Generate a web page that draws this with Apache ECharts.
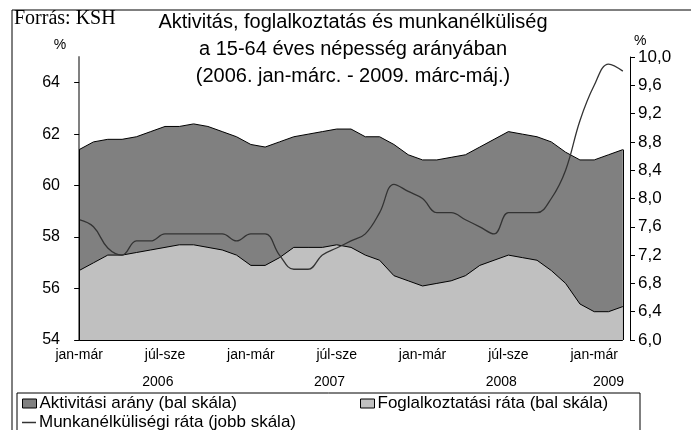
<!DOCTYPE html>
<html>
<head>
<meta charset="utf-8">
<script src="https://cdn.jsdelivr.net/npm/echarts@6/dist/echarts.min.js"></script>
<style>
  html, body { margin: 0; padding: 0; background: #fff; }
  #chart { width: 691px; height: 430px; }
</style>
</head>
<body>
<div id="chart"></div>
<script>
// rolling 3-month periods, 2006 jan-márc .. 2009 márc-máj
var periods = ['jan-már', 'feb-ápr', 'már-máj', 'ápr-jún', 'máj-júl', 'jún-aug',
  'júl-sze', 'aug-okt', 'sze-nov', 'okt-dec', 'nov-jan', 'dec-feb'];
var years = ['2006', '2007', '2008', '2009'];
var periodsPerYear = [12, 12, 12, 3];

// bal skála (%)
var aktivitas = [61.4, 61.7, 61.8, 61.8, 61.9, 62.1, 62.3, 62.3, 62.4, 62.3, 62.1, 61.9,
  61.6, 61.5, 61.7, 61.9, 62.0, 62.1, 62.2, 62.2, 61.9, 61.9, 61.6, 61.2,
  61.0, 61.0, 61.1, 61.2, 61.5, 61.8, 62.1, 62.0, 61.9, 61.7, 61.3, 61.0,
  61.0, 61.2, 61.4];
var foglalkoztatas = [56.7, 57.0, 57.3, 57.3, 57.4, 57.5, 57.6, 57.7, 57.7, 57.6, 57.5, 57.3,
  56.9, 56.9, 57.2, 57.6, 57.6, 57.6, 57.7, 57.6, 57.3, 57.1, 56.5, 56.3,
  56.1, 56.2, 56.3, 56.5, 56.9, 57.1, 57.3, 57.2, 57.1, 56.7, 56.2, 55.4,
  55.1, 55.1, 55.3];
// jobb skála (%)
var munkanelkuliseg = [7.7, 7.6, 7.3, 7.2, 7.4, 7.4, 7.5, 7.5, 7.5, 7.5, 7.5, 7.4,
  7.5, 7.5, 7.2, 7.0, 7.0, 7.2, 7.3, 7.4, 7.5, 7.8, 8.2, 8.1,
  8.0, 7.8, 7.8, 7.7, 7.6, 7.5, 7.8, 7.8, 7.8, 8.0, 8.4, 9.1,
  9.6, 9.9, 9.8];

var leftTicks = [54, 56, 58, 60, 62, 64];

var seriesNames = ['Aktivitási arány (bal skála)', 'Foglalkoztatási ráta (bal skála)',
  'Munkanélküliségi ráta (jobb skála)'];

var font = '"Liberation Sans", Arial, sans-serif';

// category names (unique) and year label positions
var categories = [];
var yearCenters = [];
years.forEach(function (y, k) {
  var start = categories.length;
  for (var m = 0; m < periodsPerYear[k]; m++) categories.push(y + ' ' + periods[m]);
  yearCenters.push(start + (periodsPerYear[k] - 1) / 2);
});
var last = categories.length - 1;

function legendAt(name, left, top, iconH) {
  return {
    data: [{ name: name, icon: 'rect' }],
    left: left,
    top: top,
    itemWidth: 14,
    itemHeight: iconH,
    itemGap: 4,
    itemStyle: iconH > 3 ? { borderColor: '#000', borderWidth: 1 } : { borderWidth: 0 },
    textStyle: { fontFamily: font, fontSize: 17, color: '#000', padding: [0, 0, 0, -2] },
    padding: 0,
    selectedMode: false
  };
}

var chart = echarts.init(document.getElementById('chart'));
var option = {
  animation: false,
  textStyle: { fontFamily: font, color: '#000' },
  title: [{
    text: 'Aktivitás, foglalkoztatás és munkanélküliség\na 15-64 éves népesség arányában\n(2006. jan-márc. - 2009. márc-máj.)',
    left: 348,
    textAlign: 'center',
    top: 4,
    textStyle: { fontFamily: font, fontSize: 20, fontWeight: 'normal', lineHeight: 27, color: '#000', align: 'center' }
  }, {
    text: 'Forrás: KSH',
    left: 9,
    top: 4,
    textStyle: { fontFamily: '"Liberation Serif", "Times New Roman", serif', fontSize: 20, fontWeight: 'normal', color: '#000' }
  }],
  graphic: [{
    type: 'rect',
    shape: { x: 12, y: 10, width: 700, height: 440 },
    style: { fill: 'none', stroke: '#000', lineWidth: 1 },
    silent: true
  }, {
    type: 'rect',
    shape: { x: 17, y: 393, width: 623, height: 60 },
    style: { fill: 'none', stroke: '#000', lineWidth: 1 },
    silent: true
  }],
  legend: [
    legendAt(seriesNames[0], 22, 395, 9),
    legendAt(seriesNames[1], 360, 395, 9),
    legendAt(seriesNames[2], 22, 414, 1.5)
  ],
  grid: { left: 72, right: 61, top: 57, bottom: 90, containLabel: false },
  xAxis: [{
    type: 'category',
    data: categories,
    boundaryGap: true,
    axisLine: { show: false },
    axisTick: { show: false },
    axisLabel: {
      interval: 5,
      margin: 8,
      fontSize: 14,
      color: '#000',
      formatter: function (v) { return v.split(' ')[1]; }
    }
  }, {
    type: 'value',
    position: 'bottom',
    offset: 27,
    min: -0.5,
    max: last + 0.5,
    axisLine: { show: false },
    axisTick: { show: false },
    splitLine: { show: false },
    axisLabel: {
      customValues: yearCenters,
      margin: 8,
      fontSize: 14,
      color: '#000',
      formatter: function (v) {
        var k = yearCenters.indexOf(v);
        return k >= 0 ? years[k] : '';
      }
    }
  }],
  yAxis: [{
    type: 'value',
    position: 'left',
    min: 54,
    max: 65,
    interval: 2,
    name: '%',
    nameLocation: 'end',
    nameGap: 5,
    nameTextStyle: { fontFamily: font, fontSize: 14, color: '#000', align: 'right', padding: [0, 13, 0, 0] },
    axisLine: { show: true, lineStyle: { color: '#808080', width: 2 } },
    axisTick: { show: true, length: 5, customValues: leftTicks, lineStyle: { color: '#000' } },
    axisLabel: { customValues: leftTicks, fontSize: 16, color: '#000', margin: 12 },
    splitLine: { show: false }
  }, {
    type: 'value',
    position: 'right',
    min: 6,
    max: 10,
    interval: 0.4,
    name: '%',
    nameLocation: 'end',
    nameGap: 5,
    nameTextStyle: { fontFamily: font, fontSize: 14, color: '#000', align: 'left', padding: [0, 0, 0, 4] },
    axisLine: { show: true, lineStyle: { color: '#000', width: 1 } },
    axisTick: { show: true, length: 5, lineStyle: { color: '#000' } },
    axisLabel: {
      fontSize: 17,
      color: '#000',
      margin: 8,
      formatter: function (v) { return v.toFixed(1).replace('.', ','); }
    },
    splitLine: { show: false }
  }],
  series: [{
    name: seriesNames[0],
    type: 'line',
    data: aktivitas,
    showSymbol: false,
    itemStyle: { color: '#808080' },
    lineStyle: { color: '#000', width: 1 },
    areaStyle: { color: '#808080', opacity: 1, origin: 'start' },
    z: 2,
    markLine: {
      silent: true,
      symbol: ['none', 'none'],
      label: { show: false },
      lineStyle: { color: '#000', width: 1, type: 'solid' },
      data: [
        [{ coord: [0, 54] }, { coord: [last, 54] }],
        [{ coord: [0, 54] }, { coord: [0, aktivitas[0]] }],
        [{ coord: [last, 54] }, { coord: [last, aktivitas[last]] }]
      ]
    }
  }, {
    name: seriesNames[1],
    type: 'line',
    data: foglalkoztatas,
    showSymbol: false,
    itemStyle: { color: '#C0C0C0' },
    lineStyle: { color: '#000', width: 1 },
    areaStyle: { color: '#C0C0C0', opacity: 1, origin: 'start' },
    z: 3
  }, {
    name: seriesNames[2],
    type: 'line',
    yAxisIndex: 1,
    data: munkanelkuliseg,
    smooth: 0.4,
    showSymbol: false,
    itemStyle: { color: '#333333' },
    lineStyle: { color: '#333333', width: 1.3 },
    z: 4
  }]
};
chart.setOption(option);
</script>
</body>
</html>
